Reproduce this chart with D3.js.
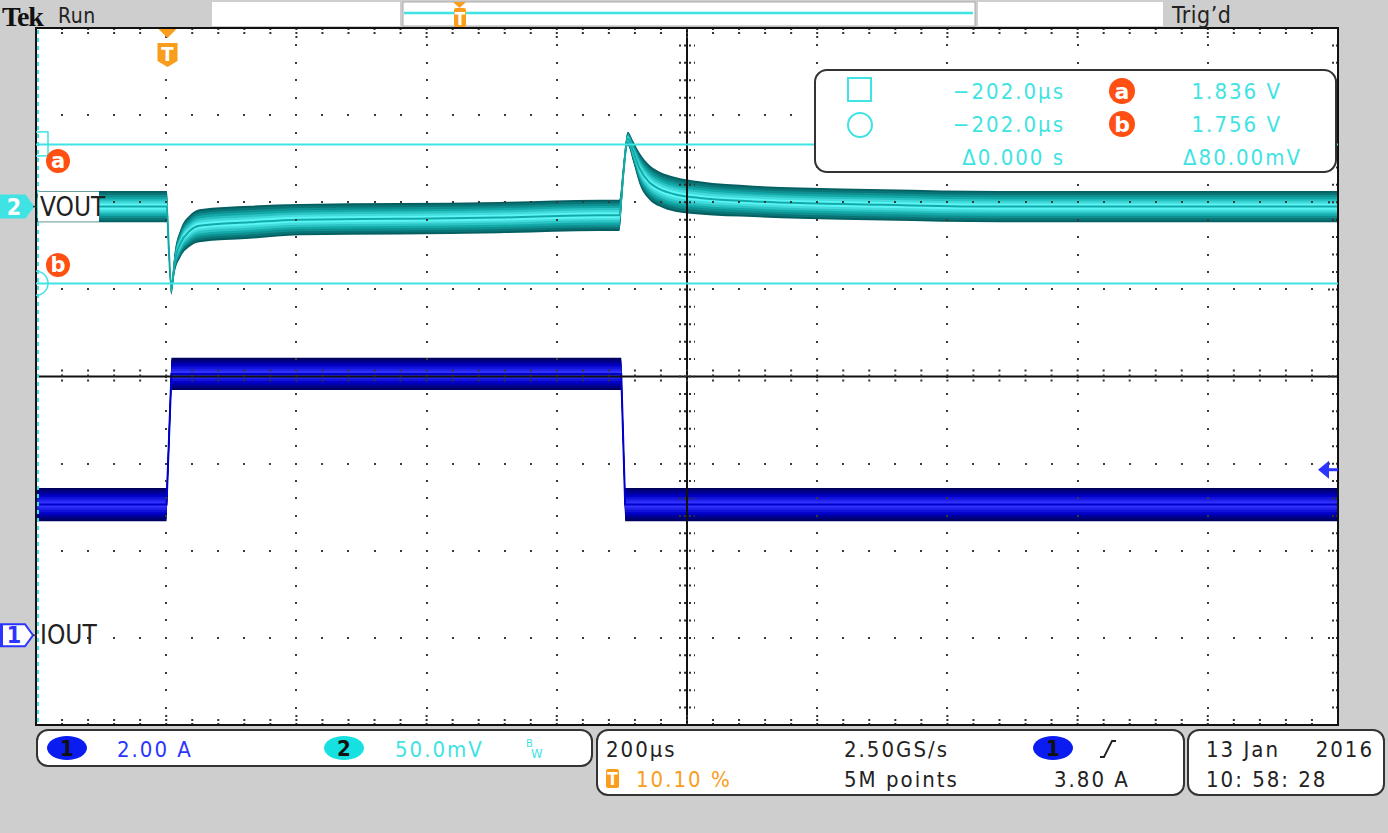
<!doctype html>
<html>
<head>
<meta charset="utf-8">
<title>Tek scope capture</title>
<script src="https://cdn.jsdelivr.net/npm/d3@7"></script>
<style>
  body { margin: 0; background: #cecece; }
  svg text { font-family: "Liberation Sans Narrow", "DejaVu Sans Condensed", sans-serif; }
</style>
</head>
<body>
<div id="scope"></div>
<script>
// ---- acquisition settings ----
var timeStart = -202;          // us at left edge of screen
var timePerDiv = 200;          // us / div
var ch1PerDiv = 2.0, ch1Offset = 0, ch1Pos = -2.97;     // IOUT, A
var ch2PerDiv = 0.05, ch2Offset = 1.8, ch2Pos = 1.95;   // VOUT, V

// ---- channel 2 (VOUT) trace: time (us), mid value (V), envelope half width (mV) ----
var vTime   = [-202, -1, 2, 6, 11, 20, 34, 49, 126, 203, 356, 510, 664, 694, 700, 707, 715, 725, 740, 756, 780, 817, 900, 971, 1100, 1278, 1798];
var vMid    = [1.800, 1.800, 1.776, 1.753, 1.768, 1.779, 1.786, 1.789, 1.791, 1.7925, 1.793, 1.7937, 1.795, 1.795, 1.818, 1.839, 1.832, 1.822, 1.814, 1.810, 1.807, 1.805, 1.803, 1.802, 1.801, 1.800, 1.800];
var vSpread = [9, 9, 6, 3.5, 6, 8, 9, 9.5, 9.5, 9, 9, 9, 9, 9, 6, 4, 6, 9, 10, 10, 10, 9.5, 9, 9, 9, 9, 9];

// ---- channel 1 (IOUT) trace: time (us), mid value (A), envelope half width (A) ----
var iTime   = [-202, -1.5, 6, 697, 703, 1798];
var iMid    = [3.0, 3.0, 6.0, 6.0, 3.0, 3.0];
var iSpread = [0.38, 0.38, 0.37, 0.37, 0.38, 0.38];

// ---- cursors / readouts ----
var cursorVolts = [1.836, 1.756];
var cursorNames = ["a", "b"];
var readTimes = ["\u2212202.0\u00b5s", "\u2212202.0\u00b5s", "\u03940.000 s"];
var readVolts = ["1.836 V", "1.756 V", "\u039480.00mV"];
var trigLevel = 3.80;
var chanNames = ["IOUT", "VOUT"];
var statusTop = ["Tek", "Run", "Trig\u2019d"];
var chanScaleText = ["2.00 A", "50.0mV"];
var horizText = ["200\u00b5s", "10.10 %", "2.50GS/s", "5M points", "3.80 A"];
var dateText = ["13 Jan", "2016", "10: 58: 28"];

var W = 1388, H = 833;
var plot = {left: 36, right: 1338, top: 28, bottom: 725};
var cyan = "#3fe3e3", orange = "#f99d1c", blue = "#2b35ff", red = "#ff4f12";

var svg = d3.select("#scope").append("svg")
    .attr("width", W).attr("height", H);

svg.append("rect").attr("width", W).attr("height", H).attr("fill", "#cecece");

// scales
var x = d3.scaleLinear()
    .domain([timeStart, timeStart + timePerDiv * 10])
    .range([plot.left, plot.right]);
var gx = d3.scaleLinear().domain([0, 10]).range([plot.left, plot.right]);
var gy = d3.scaleLinear().domain([0, 8]).range([plot.top, plot.bottom]);

function chanScale(perDiv, offset, pos) {
    var c = offset - pos * perDiv;
    return d3.scaleLinear().domain([c - 4 * perDiv, c + 4 * perDiv]).range([plot.bottom, plot.top]);
}
var yI = chanScale(ch1PerDiv, ch1Offset, ch1Pos);
var yV = chanScale(ch2PerDiv, ch2Offset, ch2Pos);

// plot background
svg.append("rect")
    .attr("x", plot.left).attr("y", plot.top)
    .attr("width", plot.right - plot.left).attr("height", plot.bottom - plot.top)
    .attr("fill", "#fff");

svg.append("clipPath").attr("id", "clip").append("rect")
    .attr("x", plot.left).attr("y", plot.top)
    .attr("width", plot.right - plot.left).attr("height", plot.bottom - plot.top);

// draw a noisy trace as nested envelope bands, dark edges -> bright core
function band(times, mids, spreads, yScale, edge, mid, core, curve) {
    var pts = times.map(function(t, i) { return {t: t, m: mids[i], s: spreads[i]}; });
    var g = svg.append("g").attr("clip-path", "url(#clip)");
    var fracs = [1, 0.88, 0.74, 0.6, 0.46, 0.32, 0.18];
    var col = d3.scaleLinear().domain([1, 0.6, 0.18]).range([edge, mid, core]);
    fracs.forEach(function(f) {
        g.append("path").datum(pts)
            .attr("fill", col(f))
            .attr("d", d3.area().curve(curve)
                .x(function(d) { return x(d.t); })
                .y0(function(d) { return yScale(d.m - d.s * f); })
                .y1(function(d) { return yScale(d.m + d.s * f); }));
    });
    g.append("path").datum(pts)
        .attr("fill", "none").attr("stroke", mid).attr("stroke-width", 2)
        .attr("d", d3.line().curve(curve)
            .x(function(d) { return x(d.t); })
            .y(function(d) { return yScale(d.m); }));
}

band(iTime, iMid, iSpread, yI, "#000062", "#0000c8", "#3333ff", d3.curveLinear);
band(vTime, vMid, vSpread.map(function(s) { return s / 1000; }), yV,
     "#055f61", "#14a9a9", "#5af6f6", d3.curveMonotoneX);

// ---- graticule ----
var grid = svg.append("g");
var dotPts = [];
d3.range(1, 10).filter(function(k) { return k !== 5; }).forEach(function(k) {
    d3.range(0, 41).forEach(function(j) { dotPts.push([gx(k), gy(j / 5)]); });
});
d3.range(1, 8).filter(function(j) { return j !== 4; }).forEach(function(j) {
    d3.range(0, 51).forEach(function(i) { dotPts.push([gx(i / 5), gy(j)]); });
});
grid.selectAll("rect.dot").data(dotPts).join("rect")
    .attr("class", "dot")
    .attr("x", function(d) { return Math.round(d[0]) - 1; })
    .attr("y", function(d) { return Math.round(d[1]) - 1; })
    .attr("width", 2).attr("height", 2)
    .attr("fill", "#3a3a3a");

// center cross with minor ticks
grid.append("line").attr("x1", gx(5)).attr("x2", gx(5)).attr("y1", plot.top).attr("y2", plot.bottom)
    .attr("stroke", "#111").attr("stroke-width", 2);
grid.append("line").attr("x1", plot.left).attr("x2", plot.right).attr("y1", gy(4)).attr("y2", gy(4))
    .attr("stroke", "#111").attr("stroke-width", 2);
grid.selectAll("line.vt").data(d3.range(0, 41)).join("line")
    .attr("class", "vt")
    .attr("x1", gx(5) - 8).attr("x2", gx(5) + 8)
    .attr("y1", function(j) { return gy(j / 5); }).attr("y2", function(j) { return gy(j / 5); })
    .attr("stroke", "#333").attr("stroke-width", 2).attr("stroke-dasharray", "2,3");
grid.selectAll("line.ht").data(d3.range(0, 51)).join("line")
    .attr("class", "ht")
    .attr("y1", gy(4) - 7).attr("y2", gy(4) + 7)
    .attr("x1", function(i) { return gx(i / 5); }).attr("x2", function(i) { return gx(i / 5); })
    .attr("stroke", "#333").attr("stroke-width", 2).attr("stroke-dasharray", "2,3");

// edge ticks
grid.selectAll("line.et").data(d3.range(1, 50)).join("line")
    .attr("class", "et")
    .attr("x1", function(i) { return gx(i / 5); }).attr("x2", function(i) { return gx(i / 5); })
    .attr("y1", plot.top).attr("y2", function(i) { return plot.top + (i % 5 ? 7 : 11); })
    .attr("stroke", "#333").attr("stroke-width", 2).attr("stroke-dasharray", "2,2");
grid.selectAll("line.eb").data(d3.range(1, 50)).join("line")
    .attr("class", "eb")
    .attr("x1", function(i) { return gx(i / 5); }).attr("x2", function(i) { return gx(i / 5); })
    .attr("y1", plot.bottom).attr("y2", function(i) { return plot.bottom - (i % 5 ? 7 : 11); })
    .attr("stroke", "#333").attr("stroke-width", 2).attr("stroke-dasharray", "2,2");
grid.selectAll("line.er").data(d3.range(1, 40)).join("line")
    .attr("class", "er")
    .attr("y1", function(j) { return gy(j / 5); }).attr("y2", function(j) { return gy(j / 5); })
    .attr("x1", plot.right).attr("x2", function(j) { return plot.right - (j % 5 ? 7 : 11); })
    .attr("stroke", "#333").attr("stroke-width", 2).attr("stroke-dasharray", "2,2");

// border
svg.append("rect")
    .attr("x", plot.left).attr("y", plot.top)
    .attr("width", plot.right - plot.left).attr("height", plot.bottom - plot.top)
    .attr("fill", "none").attr("stroke", "#111").attr("stroke-width", 2);
svg.append("line").attr("x1", plot.left + 2).attr("x2", plot.left + 2)
    .attr("y1", plot.top + 2).attr("y2", plot.bottom - 2)
    .attr("stroke", cyan).attr("stroke-width", 2).attr("stroke-dasharray", "4,4");

// ---- cursors ----
var cur = svg.append("g").attr("clip-path", "url(#clip)");
cur.selectAll("line.cur").data(cursorVolts).join("line")
    .attr("class", "cur")
    .attr("x1", plot.left).attr("x2", plot.right)
    .attr("y1", function(v) { return Math.round(yV(v)) + 0.5; })
    .attr("y2", function(v) { return Math.round(yV(v)) + 0.5; })
    .attr("stroke", cyan).attr("stroke-width", 2);
cur.append("rect").attr("x", plot.left - 12).attr("y", yV(cursorVolts[0]) - 12)
    .attr("width", 24).attr("height", 24)
    .attr("fill", "none").attr("stroke", cyan).attr("stroke-width", 1.5);
cur.append("circle").attr("cx", plot.left).attr("cy", yV(cursorVolts[1]))
    .attr("r", 12).attr("fill", "none").attr("stroke", cyan).attr("stroke-width", 1.5);

// cursor tags a / b
var tagY = [161, 265];
cursorNames.forEach(function(n, i) {
    svg.append("circle").attr("cx", 58).attr("cy", tagY[i]).attr("r", 12).attr("fill", red);
    svg.append("text").attr("x", 58).attr("y", tagY[i] + 7).attr("text-anchor", "middle")
        .attr("fill", "#fff").attr("font-size", 21).attr("font-weight", "bold")
        .style("font-family", "'DejaVu Sans', sans-serif").text(n);
});

// ---- channel labels and ground markers ----
var zeroY = [yI(ch1Offset), yV(ch2Offset)];
svg.append("rect").attr("x", 38).attr("y", zeroY[1] - 15).attr("width", 61).attr("height", 30).attr("fill", "#fff");
chanNames.forEach(function(n, i) {
    svg.append("text").attr("x", 40).attr("y", zeroY[i] + 9)
        .attr("font-size", 26).attr("fill", "#222").text(n);
});
function marker(cy, fill, stroke, txt, txtFill) {
    var pts = [[0, cy - 11], [25, cy - 11], [33, cy], [25, cy + 11], [0, cy + 11]];
    svg.append("path").attr("d", d3.line()(pts) + "Z")
        .attr("fill", fill).attr("stroke", stroke).attr("stroke-width", 2);
    svg.append("line").attr("x1", 33).attr("x2", 37).attr("y1", cy).attr("y2", cy)
        .attr("stroke", "#333").attr("stroke-width", 1.5);
    svg.append("text").attr("x", 14).attr("y", cy + 8).attr("text-anchor", "middle")
        .attr("fill", txtFill).attr("font-size", 23).attr("font-weight", "bold").text(txt);
}
marker(zeroY[1], cyan, cyan, "2", "#fff");
marker(zeroY[0], "#fff", blue, "1", blue);
svg.append("rect").attr("x", 0).attr("y", zeroY[0] - 11).attr("width", 3).attr("height", 22).attr("fill", blue);

// trigger level arrow
var ty = yI(trigLevel);
svg.append("path").attr("d", d3.line()([[1318, ty], [1329, ty - 9], [1329, ty + 9]]) + "Z").attr("fill", blue);
svg.append("rect").attr("x", 1328).attr("y", ty - 1.5).attr("width", 10).attr("height", 3).attr("fill", blue);

// trigger position marker
var tx = x(0);
svg.append("path").attr("d", d3.line()([[tx - 9, 29], [tx + 9, 29], [tx, 38]]) + "Z").attr("fill", orange);
svg.append("path").attr("d", "M" + (tx - 10) + ",43 h20 v18 l-10,6 l-10,-6 Z").attr("fill", orange);
svg.append("text").attr("x", tx).attr("y", 61).attr("text-anchor", "middle")
    .attr("fill", "#fff").attr("font-size", 20).attr("font-weight", "bold").text("T");

// ---- cursor readout box ----
svg.append("rect").attr("x", 815).attr("y", 70).attr("width", 521).attr("height", 102).attr("rx", 12)
    .attr("fill", "#fff").attr("stroke", "#333").attr("stroke-width", 2);
svg.append("rect").attr("x", 848).attr("y", 78).attr("width", 23).attr("height", 23)
    .attr("fill", "none").attr("stroke", cyan).attr("stroke-width", 2);
svg.append("circle").attr("cx", 860).attr("cy", 125).attr("r", 12)
    .attr("fill", "none").attr("stroke", cyan).attr("stroke-width", 2);
var rowY = [99, 132, 165];
readTimes.forEach(function(s, i) {
    svg.append("text").attr("x", 1065).attr("y", rowY[i]).attr("text-anchor", "end")
        .attr("fill", cyan).attr("font-size", 22).attr("letter-spacing", 2).text(s);
});
readVolts.forEach(function(s, i) {
    svg.append("text").attr("x", i < 2 ? 1282 : 1302).attr("y", rowY[i]).attr("text-anchor", "end")
        .attr("fill", cyan).attr("font-size", 22).attr("letter-spacing", 2).text(s);
});
cursorNames.forEach(function(n, i) {
    svg.append("circle").attr("cx", 1122).attr("cy", rowY[i] - 8).attr("r", 13).attr("fill", red);
    svg.append("text").attr("x", 1122).attr("y", rowY[i]).attr("text-anchor", "middle")
        .attr("fill", "#fff").attr("font-size", 22).attr("font-weight", "bold")
        .style("font-family", "'DejaVu Sans', sans-serif").text(n);
});

// ---- top status bar ----
svg.append("text").attr("x", 2).attr("y", 26).attr("font-size", 28).attr("font-weight", "bold")
    .attr("letter-spacing", -1.2).style("font-family", "'Liberation Serif', serif").attr("fill", "#111").text(statusTop[0]);
svg.append("text").attr("x", 58).attr("y", 23).attr("font-size", 21).attr("letter-spacing", 0.5)
    .attr("fill", "#222").text(statusTop[1]);
svg.append("text").attr("x", 1172).attr("y", 23).attr("font-size", 23).attr("letter-spacing", 0.5)
    .attr("fill", "#222").text(statusTop[2]);
svg.append("rect").attr("x", 212).attr("y", 2).attr("width", 188).attr("height", 24).attr("fill", "#fff");
svg.append("rect").attr("x", 403).attr("y", 2).attr("width", 572).attr("height", 24).attr("fill", "#fff")
    .attr("stroke", "#aaa").attr("stroke-width", 1);
svg.append("rect").attr("x", 978).attr("y", 2).attr("width", 185).attr("height", 24).attr("fill", "#fff");
svg.append("line").attr("x1", 404).attr("x2", 973).attr("y1", 13).attr("y2", 13)
    .attr("stroke", cyan).attr("stroke-width", 2.5);
svg.append("path").attr("d", d3.line()([[453, 2], [466, 2], [459.5, 8]]) + "Z").attr("fill", orange);
svg.append("rect").attr("x", 454).attr("y", 8).attr("width", 12).attr("height", 19).attr("rx", 2).attr("fill", orange);
svg.append("text").attr("x", 460).attr("y", 25).attr("text-anchor", "middle")
    .attr("fill", "#fff").attr("font-size", 17).attr("font-weight", "bold").text("T");

// ---- bottom status boxes ----
function box(x0, x1, y0, y1) {
    svg.append("rect").attr("x", x0).attr("y", y0).attr("width", x1 - x0).attr("height", y1 - y0).attr("rx", 11)
        .attr("fill", "#fff").attr("stroke", "#333").attr("stroke-width", 2);
}
function label(xp, yp, s, fill, anchor) {
    return svg.append("text").attr("x", xp).attr("y", yp).attr("text-anchor", anchor || "start")
        .attr("fill", fill).attr("font-size", 22).attr("letter-spacing", 2).text(s);
}
function chanBadge(cx, cy, fill, s) {
    svg.append("ellipse").attr("cx", cx).attr("cy", cy).attr("rx", 20).attr("ry", 12).attr("fill", fill);
    svg.append("text").attr("x", cx).attr("y", cy + 8).attr("text-anchor", "middle")
        .attr("fill", "#111").attr("font-size", 22).attr("font-weight", "bold").text(s);
}
box(37, 592, 730, 766);
chanBadge(67, 748, "#0a1cf0", "1");
label(117, 757, chanScaleText[0], blue);
chanBadge(344, 748, "#16e0e0", "2");
label(395, 757, chanScaleText[1], cyan);
svg.append("text").attr("x", 526).attr("y", 747).attr("fill", cyan).attr("font-size", 11).text("B");
svg.append("text").attr("x", 531).attr("y", 758).attr("fill", cyan).attr("font-size", 13).text("W");

box(597, 1184, 730, 795);
label(606, 757, horizText[0], "#222");
svg.append("rect").attr("x", 606).attr("y", 769).attr("width", 13).attr("height", 19).attr("rx", 2).attr("fill", orange);
svg.append("text").attr("x", 612.5).attr("y", 785).attr("text-anchor", "middle")
    .attr("fill", "#fff").attr("font-size", 17).attr("font-weight", "bold").text("T");
label(636, 787, horizText[1], orange);
label(844, 757, horizText[2], "#222");
label(844, 787, horizText[3], "#222");
chanBadge(1053, 748, "#0a1cf0", "1");
svg.append("path").attr("d", "M1100,757 h4 l8,-16 h4").attr("fill", "none").attr("stroke", "#222").attr("stroke-width", 1.8);
label(1054, 787, horizText[4], "#222");

box(1188, 1384, 730, 795);
label(1206, 757, dateText[0], "#222");
label(1374, 757, dateText[1], "#222", "end");
label(1206, 787, dateText[2], "#222");
</script>
</body>
</html>
